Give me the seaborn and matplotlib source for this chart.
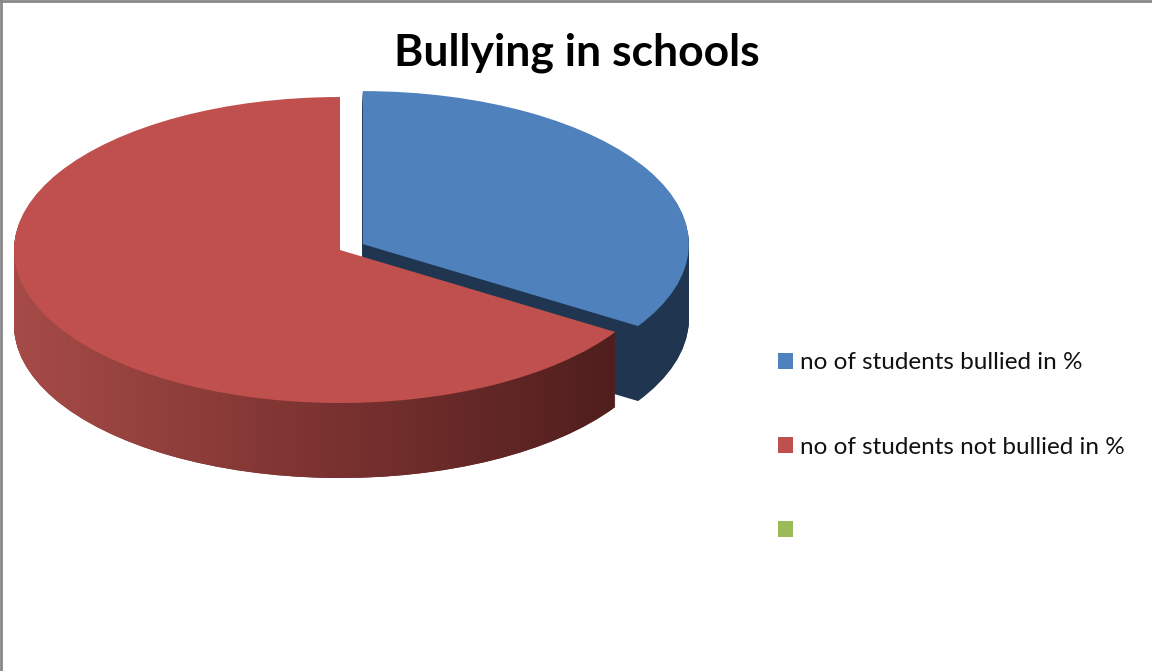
import numpy as np
import matplotlib
matplotlib.use("Agg")
import matplotlib.pyplot as plt
import seaborn as sns
from matplotlib.patches import Patch, PathPatch
from matplotlib.path import Path
from matplotlib.lines import Line2D
from matplotlib.colors import LinearSegmentedColormap

# ---- data ----
categories = ["no of students bullied in %", "no of students not bullied in %", ""]
values = [34, 66]
top_colors = ["#4F81BD", "#C0504D", "#9BBB59"]
side_colors = ["#1F3550", "#7A3230"]
explode = [0.08, 0.0]
title = "Bullying in schools"

sns.set_theme(style="white")
plt.rcParams["font.family"] = ["Lato", "DejaVu Sans"]

W, H = 1152, 671
fig = plt.figure(figsize=(W / 100, H / 100), dpi=100)
ax = fig.add_axes([0, 0, 1, 1])

# pixel geometry of the pie ellipse
cx, cy = 340, 250
a, b = 326, 153
depth = 75 / b

n_layers = 75
offsets = np.linspace(depth, 0, n_layers, endpoint=False)
red_paths = []
for d in offsets:
    wedges, _ = ax.pie(values, colors=side_colors, startangle=90, counterclock=False,
                       explode=explode, center=(0, -d),
                       wedgeprops=dict(linewidth=0, zorder=1))
    red_paths.append(wedges[1].get_path().transformed(wedges[1].get_patch_transform()))

# gradient shading on the red side wall
compound = Path.make_compound_path(*red_paths)
clip = PathPatch(compound, transform=ax.transData, facecolor="none", edgecolor="none")
cmap = LinearSegmentedColormap.from_list("redwall", ["#A64B47", "#7A3230", "#4A1C1B"])
grad = np.linspace(0, 1, 256).reshape(1, -1)
im = ax.imshow(grad, cmap=cmap, extent=(-1.0, 0.95, -1.7, 0.2), aspect="auto",
               zorder=1.5, interpolation="bilinear")
im.set_clip_path(clip)

# top face
ax.pie(values, colors=top_colors[:2], startangle=90, counterclock=False,
       explode=explode, center=(0, 0), wedgeprops=dict(linewidth=0, zorder=2))

ax.set_aspect("auto")
ax.set_xlim(-cx / a, (W - cx) / a)
ax.set_ylim(-(H - cy) / b, cy / b)
ax.axis("off")

# title
fig.text(577 / W, 1 - 53 / H, title, ha="center", va="center",
         fontsize=32, fontweight="bold", color="black")

# legend
handles = [Patch(facecolor=c, edgecolor="none") for c in top_colors]
leg = fig.legend(handles, categories, loc="center left",
                 bbox_to_anchor=(756 / W, 1 - 447 / H), frameon=False,
                 fontsize=17.5, handlelength=0.62, handleheight=0.62,
                 handletextpad=0.3, labelspacing=2.6, labelcolor="#111111")

# frame lines (top and left)
fig.add_artist(Line2D([0, 1], [1 - 1 / H, 1 - 1 / H], transform=fig.transFigure,
                      color="#888888", linewidth=2))
fig.add_artist(Line2D([1 / W, 1 / W], [0, 1], transform=fig.transFigure,
                      color="#888888", linewidth=2))

fig.savefig("out.png", dpi=100)
